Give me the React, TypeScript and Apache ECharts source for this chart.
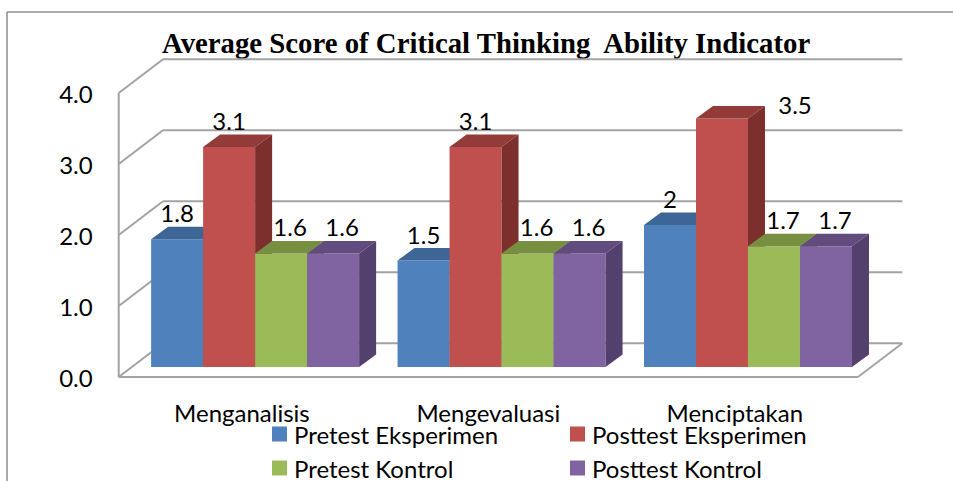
import React, { useEffect, useRef } from "react";
import * as echarts from "echarts";

const TITLE = "Average Score of Critical Thinking  Ability Indicator";
const categories = ["Menganalisis", "Mengevaluasi", "Menciptakan"];
const seriesNames = ["Pretest Eksperimen", "Posttest Eksperimen", "Pretest Kontrol", "Posttest Kontrol"];
const pretestEksperimen = [1.8, 1.5, 2];
const posttestEksperimen = [3.1, 3.1, 3.5];
const pretestKontrol = [1.6, 1.6, 1.7];
const posttestKontrol = [1.6, 1.6, 1.7];
const yTicks = [0, 1, 2, 3, 4];

const seriesValues = [pretestEksperimen, posttestEksperimen, pretestKontrol, posttestKontrol];

const FRONT = ["#4F81BD", "#C0504D", "#9BBB59", "#8064A2"];
const TOP = ["#3D6696", "#923B39", "#778F41", "#614B7F"];
const SIDE = ["#385D8A", "#7C2F2D", "#6A8237", "#54406C"];
const LABEL_DX = [0, 0, 9, 9];

const WALL_DX = 44.3;
const WALL_DY = 33.7;
const BAR_F = [13.2, 10];
const BAR_B = [30.2, 22.5];
const BAR_FRAC = 0.211;
const GRID_COLOR = "#A3A3A3";
const FONT = "Lato";

const maxValue = Math.max(...seriesValues.flat());

export default function App() {
  const ref = useRef<HTMLDivElement>(null);
  useEffect(() => {
    if (!ref.current) return;
    const chart = echarts.init(ref.current, null, { renderer: "svg" });

    const ctx = document.createElement("canvas").getContext("2d")!;
    ctx.font = 'bold 29px "Liberation Serif"';
    const tw = ctx.measureText(TITLE).width || 651;
    const titleScale = 651 / tw;

    const wallSeries = {
      type: "custom",
      silent: true,
      z: 1,
      data: [[0, 0]],
      renderItem: (params: any, api: any) => {
        const cs = params.coordSys;
        const x0 = cs.x;
        const x1 = cs.x + cs.width;
        const st = { stroke: GRID_COLOR, lineWidth: 2, fill: null };
        const children: any[] = [];
        yTicks.forEach((v) => {
          const y = api.coord([0, v])[1];
          children.push({ type: "line", shape: { x1: x0 + WALL_DX, y1: y - WALL_DY, x2: x1 + WALL_DX, y2: y - WALL_DY }, style: st });
          children.push({ type: "line", shape: { x1: x0, y1: y, x2: x0 + WALL_DX, y2: y - WALL_DY }, style: st });
        });
        const yTop = api.coord([0, yTicks[yTicks.length - 1]])[1];
        const yBot = api.coord([0, 0])[1];
        children.push({ type: "line", shape: { x1: x0, y1: yTop, x2: x0, y2: yBot }, style: st });
        children.push({ type: "line", shape: { x1: x0, y1: yBot, x2: x1, y2: yBot }, style: st });
        children.push({ type: "line", shape: { x1: x1, y1: yBot, x2: x1 + WALL_DX, y2: yBot - WALL_DY }, style: st });
        return { type: "group", children };
      },
    };

    const barSeries = seriesValues.map((vals, s) => ({
      type: "custom",
      name: seriesNames[s],
      z: 2,
      itemStyle: { color: FRONT[s] },
      data: vals.map((v, i) => [i, v]),
      renderItem: (params: any, api: any) => {
        const ci = api.value(0);
        const v = api.value(1);
        const [cx, y] = api.coord([ci, v]);
        const y0 = api.coord([ci, 0])[1];
        const band = api.size([1, 0])[0];
        const bw = band * BAR_FRAC;
        const xl = cx - 2 * bw + s * bw + BAR_F[0];
        const xr = xl + bw;
        const yt = y - BAR_F[1];
        const yb = y0 - BAR_F[1];
        const ddx = BAR_B[0] - BAR_F[0];
        const ddy = BAR_B[1] - BAR_F[1];
        const isMax = v === maxValue;
        const lx = isMax ? xr + ddx + 30 : (xl + xr) / 2 + LABEL_DX[s];
        const ly = isMax ? yt - ddy - 2 : yt - ddy - 14;
        return {
          type: "group",
          children: [
            { type: "rect", shape: { x: xl, y: yt, width: bw, height: yb - yt }, style: { fill: FRONT[s] } },
            { type: "polygon", shape: { points: [[xl, yt], [xl + ddx, yt - ddy], [xr + ddx, yt - ddy], [xr, yt]] }, style: { fill: TOP[s] } },
            { type: "polygon", shape: { points: [[xr, yt], [xr + ddx, yt - ddy], [xr + ddx, yb - ddy], [xr, yb]] }, style: { fill: SIDE[s] } },
            {
              type: "text",
              x: lx,
              y: ly,
              style: { text: String(v), fill: "#000", font: `24px ${FONT}`, align: "center", verticalAlign: "middle" },
            },
          ],
        };
      },
    }));

    const legendBase = {
      orient: "vertical",
      top: 422,
      height: 80,
      padding: 0,
      itemWidth: 15,
      itemHeight: 15,
      itemGap: 10,
      icon: "rect",
      selectedMode: false,
      textStyle: { fontFamily: FONT, fontSize: 24, color: "#000", lineHeight: 24, padding: [0, 0, 0, 2] },
    };

    chart.setOption({
      animation: false,
      backgroundColor: "#fff",
      grid: { left: 118.7, right: 95, top: 93, bottom: 104 },
      xAxis: {
        type: "category",
        data: categories,
        axisLine: { show: false },
        axisTick: { show: false },
        splitLine: { show: false },
        axisLabel: { fontFamily: FONT, fontSize: 24, color: "#000", margin: 23 },
      },
      yAxis: {
        type: "value",
        min: 0,
        max: 4,
        interval: 1,
        axisLine: { show: false },
        axisTick: { show: false },
        splitLine: { show: false },
        axisLabel: { fontFamily: FONT, fontSize: 24, color: "#000", margin: 26, formatter: (v: number) => v.toFixed(1) },
      },
      legend: [
        { ...legendBase, left: 272, data: [seriesNames[0], seriesNames[2]] },
        { ...legendBase, left: 570, data: [seriesNames[1], seriesNames[3]] },
      ],
      graphic: [
        { type: "line", shape: { x1: 7, y1: 12, x2: 953, y2: 12 }, style: { stroke: "#8C8C8C", lineWidth: 1.5 } },
        { type: "line", shape: { x1: 7, y1: 12, x2: 7, y2: 481 }, style: { stroke: "#8C8C8C", lineWidth: 1.5 } },
        {
          type: "text",
          x: 162,
          y: 43,
          scaleX: titleScale,
          style: { text: TITLE, font: 'bold 29px "Liberation Serif"', fill: "#000", align: "left", verticalAlign: "middle" },
        },
      ],
      series: [wallSeries, ...barSeries],
    });

    return () => chart.dispose();
  }, []);

  return <div ref={ref} style={{ position: "fixed", left: 0, top: 0, width: 953, height: 481 }} />;
}
